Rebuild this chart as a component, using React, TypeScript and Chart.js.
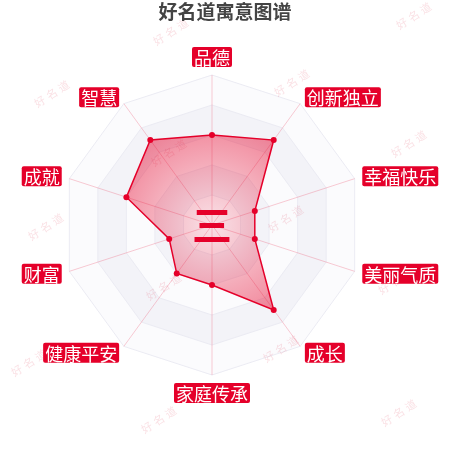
import { useEffect, useRef } from "react";
import { Chart, registerables } from "chart.js";

Chart.register(...registerables);

// chart data
const categories = ["品德", "创新独立", "幸福快乐", "美丽气质", "成长", "家庭传承", "健康平安", "财富", "成就", "智慧"];
const scores = [6, 7, 3, 3, 7, 4, 4, 3, 6, 7];
const maxScore = 10;
const ringValues = [10, 8, 6, 4, 2];
const titleText = "好名道寓意图谱";
const centerChar = "三";
const watermarkText = "好名道";

// decoration only
const watermarkSpots = [
  [172, 31], [415, 15], [53, 93], [293, 82], [170, 152], [410, 143],
  [47, 226], [287, 218], [165, 286], [397, 280], [30, 362], [282, 348],
  [160, 419], [400, 412],
];

const RED = "#e5002a";
const FONT = "'Noto Sans CJK SC', 'Noto Sans', sans-serif";

const polygonPath = (ctx: CanvasRenderingContext2D, scale: any, value: number) => {
  ctx.beginPath();
  for (let i = 0; i < categories.length; i++) {
    const p = scale.getPointPositionForValue(i, value);
    if (i === 0) ctx.moveTo(p.x, p.y);
    else ctx.lineTo(p.x, p.y);
  }
  ctx.closePath();
};

const bandsPlugin = {
  id: "bands",
  beforeDraw(chart: any) {
    const scale = chart.scales.r;
    const ctx = chart.ctx;
    ctx.save();
    ringValues.forEach((v, k) => {
      polygonPath(ctx, scale, v);
      ctx.fillStyle = k % 2 === 0 ? "#fbfbfd" : "#f3f3f8";
      ctx.fill();
    });
    ctx.restore();
  },
};

const watermarkPlugin = {
  id: "watermark",
  beforeDatasetsDraw(chart: any) {
    const ctx = chart.ctx;
    ctx.save();
    ctx.font = `11px ${FONT}`;
    ctx.fillStyle = "rgba(225, 70, 95, 0.16)";
    ctx.textAlign = "center";
    ctx.textBaseline = "middle";
    (ctx as any).letterSpacing = "3px";
    watermarkSpots.forEach(([x, y]) => {
      ctx.save();
      ctx.translate(x, y);
      ctx.rotate(-Math.PI / 5.5);
      ctx.fillText(watermarkText, 0, 0);
      ctx.restore();
    });
    ctx.restore();
  },
};

const labelsPlugin = {
  id: "labels",
  afterDraw(chart: any) {
    const scale = chart.scales.r;
    const ctx = chart.ctx;
    ctx.save();

    // title
    ctx.font = `bold 19px ${FONT}`;
    ctx.fillStyle = "#444444";
    ctx.textAlign = "center";
    ctx.textBaseline = "middle";
    ctx.fillText(titleText, chart.width / 2, 12);

    // center character
    ctx.font = `bold 40px ${FONT}`;
    ctx.fillStyle = RED;
    ctx.fillText(centerChar, scale.xCenter, scale.yCenter);

    // category labels in red boxes
    ctx.font = `18px ${FONT}`;
    categories.forEach((label, i) => {
      const p = scale.getPointPosition(i, scale.drawingArea + 8);
      const deg = Math.round((scale.getIndexAngle(i) * 180) / Math.PI) % 360;
      const w = ctx.measureText(label).width + 4;
      const h = 20;
      let left: number;
      let top: number;
      if (deg === 0) {
        left = p.x - w / 2;
        top = p.y - h;
      } else if (deg === 180) {
        left = p.x - w / 2;
        top = p.y;
      } else if (deg < 180) {
        left = p.x;
        top = p.y - h / 2;
      } else {
        left = p.x - w;
        top = p.y - h / 2;
      }
      ctx.fillStyle = RED;
      ctx.beginPath();
      ctx.roundRect(left, top, w, h, 2);
      ctx.fill();
      ctx.fillStyle = "#ffffff";
      ctx.fillText(label, left + w / 2, top + h / 2 + 1);
    });
    ctx.restore();
  },
};

const App = () => {
  const chartRef = useRef<HTMLCanvasElement | null>(null);

  useEffect(() => {
    if (!chartRef.current) return;

    const chartInstance = new Chart(chartRef.current, {
      type: "radar",
      data: {
        labels: categories,
        datasets: [
          {
            data: scores,
            fill: true,
            borderColor: RED,
            borderWidth: 1.5,
            pointRadius: 3,
            pointBorderWidth: 0,
            pointBackgroundColor: RED,
            backgroundColor: (context: any) => {
              const scale = context.chart.scales?.r;
              if (!scale || !scale.drawingArea) return "rgba(230, 0, 40, 0.35)";
              const g = context.chart.ctx.createRadialGradient(
                scale.xCenter, scale.yCenter, 0,
                scale.xCenter, scale.yCenter, scale.drawingArea * 0.72
              );
              g.addColorStop(0, "rgba(230, 0, 40, 0.1)");
              g.addColorStop(1, "rgba(230, 0, 40, 0.48)");
              return g;
            },
          },
        ],
      },
      options: {
        responsive: true,
        maintainAspectRatio: false,
        animation: false,
        layout: {
          padding: { left: 62, right: 88, top: 75, bottom: 75 },
        },
        plugins: {
          legend: { display: false },
          title: { display: false },
          tooltip: { enabled: false },
        },
        scales: {
          r: {
            min: 0,
            max: maxScore,
            ticks: { display: false, stepSize: 2 },
            grid: { color: "#ebebf3", lineWidth: 1 },
            angleLines: { color: "rgba(230, 0, 40, 0.2)", lineWidth: 1 },
            pointLabels: { display: false },
          },
        },
      },
      plugins: [bandsPlugin, watermarkPlugin, labelsPlugin],
    });

    return () => {
      chartInstance.destroy();
    };
  }, []);

  return (
    <div style={{ position: "fixed", left: 0, top: 0, width: 450, height: 450, background: "#ffffff" }}>
      <canvas ref={chartRef}></canvas>
    </div>
  );
};

export default App;
